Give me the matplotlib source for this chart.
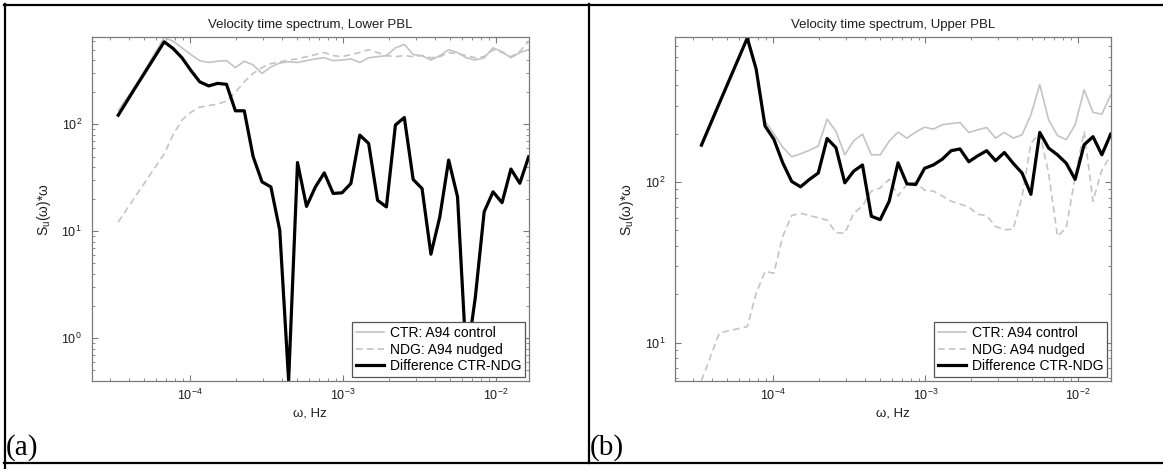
import matplotlib
matplotlib.use("Agg")
import matplotlib.pyplot as plt
from matplotlib.lines import Line2D


# ----------------------------
# Data
# ----------------------------
freq = [3.40e-5, 4.45e-5, 6.79e-5, 7.76e-5, 8.87e-5, 1.014e-4, 1.159e-4, 1.327e-4,
        1.517e-4, 1.734e-4, 1.982e-4, 2.265e-4, 2.588e-4, 2.958e-4, 3.381e-4, 3.864e-4,
        4.416e-4, 5.047e-4, 5.781e-4, 6.607e-4, 7.551e-4, 8.630e-4, 9.863e-4, 1.127e-3,
        1.288e-3, 1.472e-3, 1.683e-3, 1.923e-3, 2.203e-3, 2.518e-3, 2.877e-3, 3.289e-3,
        3.758e-3, 4.295e-3, 4.909e-3, 5.610e-3, 6.412e-3, 7.328e-3, 8.375e-3, 9.572e-3,
        1.096e-2, 1.253e-2, 1.432e-2, 1.637e-2]

# (a) Lower PBL
ctr_low = [135, 235, 650, 600, 520, 450, 395, 380, 390, 395, 340, 390, 360, 300, 345,
           375, 385, 380, 395, 410, 420, 395, 400, 410, 380, 420, 430, 440, 520, 560,
           450, 440, 400, 440, 500, 470, 420, 400, 420, 520, 480, 420, 470, 500]
ndg_low = [12.2, 21.7, 53, 80, 110, 130, 145, 150, 155, 165, 200, 250, 300, 340, 370,
           385, 400, 410, 430, 450, 470, 440, 430, 450, 470, 500, 470, 440, 430, 440,
           430, 440, 420, 430, 470, 460, 440, 420, 430, 500, 470, 430, 480, 600]
diff_low = [122, 227, 592, 513, 420, 320, 250, 229, 242, 237, 134, 134, 50, 29, 26,
            10.2, 0.40, 44, 17.1, 26, 35.2, 22.6, 22.9, 28, 79.4, 66.4, 19.5, 16.9,
            98.6, 116, 30.5, 25.1, 6.1, 13.6, 46.4, 21, 0.6, 2.4, 15.2, 23.4, 18.5,
            38.2, 28.1, 49.8]

# (b) Upper PBL
ctr_up = [175, 315, 790, 510, 240, 200, 165, 144, 150, 158, 168, 247, 207, 148, 181,
          199, 148, 148, 180, 205, 188, 205, 220, 214, 228, 232, 235, 204, 212, 219,
          188, 204, 188, 197, 263, 405, 245, 195, 184, 228, 376, 272, 265, 350]
ndg_up = [5.8, 11.5, 12.6, 20.3, 27.8, 27.1, 46, 62, 64, 62, 60, 58, 48.5, 48, 64,
          71, 88, 92, 104, 82, 97, 100, 89, 88, 82, 76, 73, 70, 63, 62,
          53, 50.5, 51, 81, 175, 202, 114, 46, 52, 108, 207, 76, 119, 146]
diff_up = [170, 310, 790, 506, 224, 185, 132, 101, 93.5, 104, 114, 187, 164, 99, 117,
           128, 61.3, 58.4, 76, 132, 97.6, 96.7, 122, 128, 139, 157, 161, 134, 146,
           157, 136, 153, 131, 114, 84, 204, 163, 148, 131, 104, 171, 192, 148, 199]

titles = ["Velocity time spectrum, Lower PBL", "Velocity time spectrum, Upper PBL"]
panel_tags = ["(a)", "(b)"]
legend_labels = ["CTR: A94 control", "NDG: A94 nudged", "Difference CTR-NDG"]

XLIM = (2.28e-5, 1.637e-2)
YLIMS = [(0.40, 650), (5.8, 796)]

W, H = 1163, 469

plt.rcParams["font.family"] = ["Liberation Sans", "DejaVu Sans"]
plt.rcParams["mathtext.fontset"] = "custom"
plt.rcParams["mathtext.rm"] = "Liberation Sans"
plt.rcParams["mathtext.it"] = "Liberation Sans:italic"

fig = plt.figure(figsize=(W / 100, H / 100), dpi=100)


def px_box(left, top, right, bottom):
    return [left / W, 1 - bottom / H, (right - left) / W, (bottom - top) / H]


axes = [
    fig.add_axes(px_box(91.7, 37.5, 528.7, 380.7)),
    fig.add_axes(px_box(675, 37.5, 1110.7, 380.7)),
]

series = [
    (ctr_low, ndg_low, diff_low),
    (ctr_up, ndg_up, diff_up),
]

grey = "#c4c4c4"
frame = "#7a7a7a"
text_col = "#1e1e1e"

for k, ax in enumerate(axes):
    ctr, ndg, diff = series[k]
    ax.plot(freq, ctr, color=grey, lw=1.2, label=legend_labels[0])
    ax.plot(freq, ndg, color=grey, lw=1.2, linestyle=(0, (4, 2.5)), label=legend_labels[1])
    ax.plot(freq, diff, color="black", lw=2.3, label=legend_labels[2])
    ax.set_xscale("log")
    ax.set_yscale("log")
    ax.set_xlim(*XLIM)
    ax.set_ylim(*YLIMS[k])

    ax.set_title(titles[k], fontsize=9.5, pad=7, color=text_col)
    ax.set_xlabel("ω, Hz", fontsize=9.5, labelpad=3, color=text_col)
    ax.set_ylabel(r"S$_\mathrm{u}$(ω)*ω", fontsize=10, labelpad=6, color=text_col)

    for side in ax.spines.values():
        side.set_color(frame)
        side.set_linewidth(0.9)
    ax.tick_params(which="both", direction="in", top=True, right=True, colors=frame,
                   labelcolor=text_col, labelsize=9)
    ax.tick_params(which="major", length=4, pad=5)
    ax.tick_params(axis="y", which="major", pad=7)
    ax.tick_params(which="minor", length=2)

    leg = ax.legend(loc="lower right", fontsize=10, frameon=True, fancybox=False,
                    framealpha=1, edgecolor="#555555", borderaxespad=0.25,
                    borderpad=0.3, labelspacing=0.18, handlelength=2.0,
                    handletextpad=0.4)
    leg.get_frame().set_linewidth(0.9)

# panel tags
fig.text(6 / W, 1 - 448 / H, panel_tags[0], fontsize=21, family="Liberation Serif",
         va="center", ha="left")
fig.text(590 / W, 1 - 448 / H, panel_tags[1], fontsize=21, family="Liberation Serif",
         va="center", ha="left")


# table borders
def hline(y, x0, x1):
    fig.add_artist(Line2D([x0 / W, x1 / W], [1 - y / H, 1 - y / H], color="black", lw=1.6))


def vline(x, y0, y1):
    fig.add_artist(Line2D([x / W, x / W], [1 - y0 / H, 1 - y1 / H], color="black", lw=1.6))


hline(5, 4, W)
hline(463, 4, W)
vline(5, 4, H)
vline(589, 4, 463)

fig.savefig("out.png", dpi=100)
